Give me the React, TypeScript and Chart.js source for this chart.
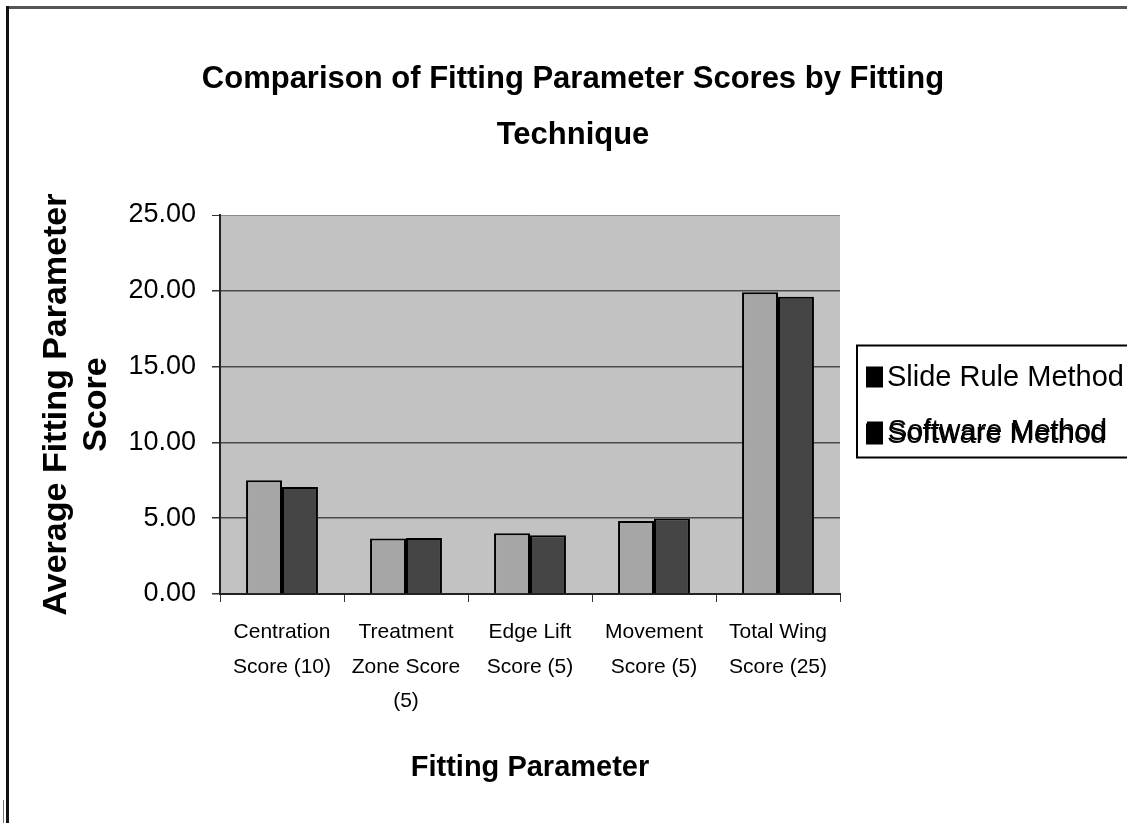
import React, { useEffect, useRef } from 'react';
import { Chart, registerables } from 'chart.js';

Chart.register(...registerables);

const categories: string[][] = [
  ['Centration', 'Score (10)'],
  ['Treatment', 'Zone Score', '(5)'],
  ['Edge Lift', 'Score (5)'],
  ['Movement', 'Score (5)'],
  ['Total Wing', 'Score (25)'],
];
const seriesNames = ['Slide Rule Method', 'Software Method'];
const slideRule = [7.5, 3.66, 4.0, 4.82, 19.9];
const software = [7.05, 3.7, 3.88, 4.98, 19.6];
const yTicks = [0, 5, 10, 15, 20, 25];
const titleLines = ['Comparison of Fitting Parameter Scores by Fitting', 'Technique'];
const yTitleLines = ['Average Fitting Parameter', 'Score'];
const xTitle = 'Fitting Parameter';

const FONT = '"Liberation Sans", Arial, Helvetica, sans-serif';
const W = 1146;
const H = 823;

const framePlugin = {
  id: 'frame',
  beforeDraw(chart: any) {
    const { ctx, chartArea: a } = chart;
    ctx.save();
    ctx.fillStyle = '#fff';
    ctx.fillRect(0, 0, chart.width, chart.height);
    ctx.fillStyle = '#c2c2c2';
    ctx.fillRect(a.left, a.top, a.right - a.left, a.bottom - a.top);
    ctx.restore();
  },
  afterDraw(chart: any) {
    const ctx = chart.ctx;
    ctx.save();
    ctx.strokeStyle = '#555';
    ctx.lineWidth = 3;
    ctx.beginPath();
    ctx.moveTo(6, 7.5);
    ctx.lineTo(chart.width, 7.5);
    ctx.stroke();
    ctx.strokeStyle = '#111';
    ctx.lineWidth = 3;
    ctx.beginPath();
    ctx.moveTo(7.5, 6);
    ctx.lineTo(7.5, chart.height);
    ctx.stroke();
    ctx.strokeStyle = '#777';
    ctx.lineWidth = 1;
    ctx.beginPath();
    ctx.moveTo(3.5, 800);
    ctx.lineTo(3.5, chart.height);
    ctx.stroke();
    ctx.restore();
  },
};

const legendPlugin = {
  id: 'boxLegend',
  afterDraw(chart: any) {
    const { ctx, chartArea: a } = chart;
    const left = a.right + 17;
    const cy = (a.top + a.bottom) / 2;
    const top = cy - 59;
    const h = 112;
    ctx.save();
    ctx.fillStyle = '#fff';
    ctx.fillRect(left, top, chart.width - left + 10, h);
    ctx.strokeStyle = '#000';
    ctx.lineWidth = 2;
    ctx.strokeRect(left, top, chart.width - left + 10, h);
    ctx.font = '29px ' + FONT;
    ctx.textBaseline = 'middle';
    ctx.textAlign = 'left';
    chart.data.datasets.forEach((ds: any, i: number) => {
      const y = top + 32 + i * 57;
      ctx.fillStyle = '#000';
      ctx.fillRect(left + 9, y - 11, 17, 21);
      ctx.fillText(ds.label, left + 30, y);
      if (i === 1) {
        ctx.fillRect(left + 10, y - 13, 16, 21);
        ctx.fillText(ds.label, left + 31, y - 3);
      }
    });
    ctx.restore();
  },
};

export default function App() {
  const ref = useRef<HTMLCanvasElement | null>(null);

  useEffect(() => {
    document.documentElement.style.overflow = 'hidden';
    document.body.style.margin = '0';
    document.body.style.overflow = 'hidden';
    const canvas = ref.current;
    if (!canvas) return;
    Chart.defaults.font.family = FONT;
    const chart = new Chart(canvas, {
      type: 'bar',
      data: {
        labels: categories,
        datasets: [
          {
            label: seriesNames[0],
            data: slideRule,
            backgroundColor: '#a6a6a6',
            borderColor: '#000',
            borderWidth: 2,
            categoryPercentage: 0.58,
            barPercentage: 1.0,
          },
          {
            label: seriesNames[1],
            data: software,
            backgroundColor: '#454545',
            borderColor: '#000',
            borderWidth: 2,
            categoryPercentage: 0.58,
            barPercentage: 1.0,
          },
        ],
      },
      options: {
        responsive: false,
        animation: false,
        layout: { padding: 0 },
        plugins: {
          legend: { display: false },
          tooltip: { enabled: false },
          title: {
            display: true,
            text: titleLines,
            color: '#000',
            font: { family: FONT, size: 31, weight: 'bold', lineHeight: 1.8 },
            padding: { top: 52, bottom: 51.4 },
          },
        },
        scales: {
          x: {
            grid: {
              display: true,
              drawOnChartArea: false,
              drawTicks: true,
              tickLength: 8,
              tickColor: '#333',
              offset: true,
            },
            border: { display: true, color: '#222', width: 2 },
            ticks: {
              color: '#000',
              padding: 13,
              maxRotation: 0,
              autoSkip: false,
              font: { family: FONT, size: 21, lineHeight: 1.65 },
            },
            title: {
              display: true,
              text: xTitle,
              color: '#000',
              font: { family: FONT, size: 29, weight: 'bold', lineHeight: 1.2 },
              padding: { top: 0, bottom: 37.6 },
            },
            afterFit(s: any) {
              s.height = H - 594;
            },
          },
          y: {
            min: yTicks[0],
            max: yTicks[yTicks.length - 1],
            grid: {
              color: (c: any) => (c.tick && c.tick.value === yTicks[yTicks.length - 1] ? '#8c8c8c' : '#4a4a4a'),
              lineWidth: (c: any) => (c.tick && c.tick.value === yTicks[yTicks.length - 1] ? 1 : 1.5),
              tickColor: '#333',
              tickLength: 8,
            },
            border: { display: true, color: '#222', width: 2 },
            ticks: {
              stepSize: yTicks[1] - yTicks[0],
              color: '#000',
              padding: 16,
              font: { family: FONT, size: 27 },
              callback: (v: any) => Number(v).toFixed(2),
            },
            title: {
              display: true,
              text: yTitleLines,
              color: '#000',
              font: { family: FONT, size: 34, weight: 'bold', lineHeight: 1.15 },
              padding: { top: 37.5, bottom: 0 },
            },
            afterFit(s: any) {
              s.width = 220;
            },
          },
          yRight: {
            position: 'right',
            display: true,
            grid: { display: false, drawTicks: false },
            border: { display: false },
            ticks: { display: false },
            afterFit(s: any) {
              s.width = W - 840;
            },
          },
        },
      },
      plugins: [framePlugin, legendPlugin],
    } as any);
    return () => chart.destroy();
  }, []);

  return (
    <div style={{ width: W, height: H, overflow: 'hidden' }}>
      <canvas ref={ref} width={W} height={H} style={{ display: 'block' }} />
    </div>
  );
}
